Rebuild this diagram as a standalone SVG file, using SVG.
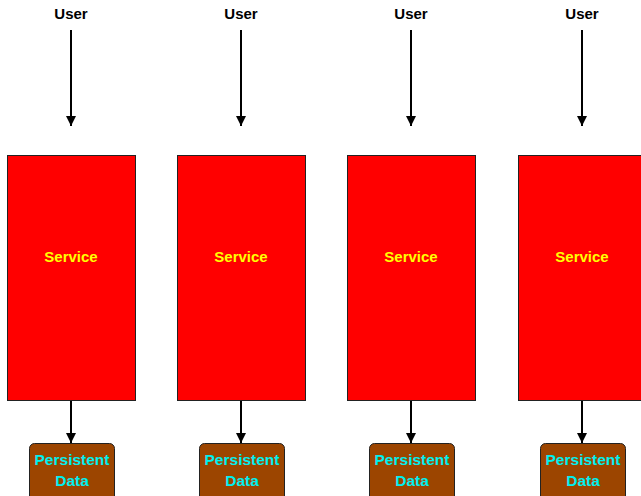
<svg xmlns="http://www.w3.org/2000/svg" width="641" height="496" viewBox="0 0 641 496">
<style>
.t{font-family:"Liberation Sans",Arial,sans-serif;font-weight:bold;font-size:15px;text-anchor:middle}
.user{fill:#000}
.svc{fill:#ff0000;stroke:#222;stroke-width:1}
.svct{fill:#ffff00}
.db{fill:#9c4500;stroke:#222;stroke-width:1}
.dbt{fill:#00f0f0;font-size:15.5px}
.c{stroke:#000;stroke-width:2;fill:none;marker-end:url(#ah)}
</style>
<defs>
<marker id="ah" viewBox="0 0 10 10" refX="10" refY="5" markerWidth="5" markerHeight="5" markerUnits="strokeWidth" orient="auto">
<path d="M0,0 L10,5 L0,10 z" fill="#000"/>
</marker>
</defs>
<g id="connectors">
<line class="c" x1="71" y1="30" x2="71" y2="126"/>
<line class="c" x1="241" y1="30" x2="241" y2="126"/>
<line class="c" x1="411" y1="30" x2="411" y2="126"/>
<line class="c" x1="582" y1="30" x2="582" y2="126"/>
<line class="c" x1="71" y1="401" x2="71" y2="443"/>
<line class="c" x1="241" y1="401" x2="241" y2="443"/>
<line class="c" x1="411" y1="401" x2="411" y2="443"/>
<line class="c" x1="582" y1="401" x2="582" y2="443"/>
</g>
<g id="user1"><text class="t user" x="71" y="19">User</text></g>
<g id="user2"><text class="t user" x="241" y="19">User</text></g>
<g id="user3"><text class="t user" x="411" y="19">User</text></g>
<g id="user4"><text class="t user" x="582" y="19">User</text></g>
<g id="service1"><rect class="svc" x="7.5" y="155.5" width="128" height="245"/><text class="t svct" x="71" y="262">Service</text></g>
<g id="service2"><rect class="svc" x="177.5" y="155.5" width="128" height="245"/><text class="t svct" x="241" y="262">Service</text></g>
<g id="service3"><rect class="svc" x="347.5" y="155.5" width="128" height="245"/><text class="t svct" x="411" y="262">Service</text></g>
<g id="service4"><rect class="svc" x="518.5" y="155.5" width="128" height="245"/><text class="t svct" x="582" y="262">Service</text></g>
<g id="data1"><rect class="db" x="29.5" y="443.5" width="85" height="60" rx="5"/><text class="t dbt" x="72" y="465">Persistent</text><text class="t dbt" x="72" y="486">Data</text></g>
<g id="data2"><rect class="db" x="199.5" y="443.5" width="85" height="60" rx="5"/><text class="t dbt" x="242" y="465">Persistent</text><text class="t dbt" x="242" y="486">Data</text></g>
<g id="data3"><rect class="db" x="369.5" y="443.5" width="85" height="60" rx="5"/><text class="t dbt" x="412" y="465">Persistent</text><text class="t dbt" x="412" y="486">Data</text></g>
<g id="data4"><rect class="db" x="540.5" y="443.5" width="85" height="60" rx="5"/><text class="t dbt" x="583" y="465">Persistent</text><text class="t dbt" x="583" y="486">Data</text></g>
</svg>
